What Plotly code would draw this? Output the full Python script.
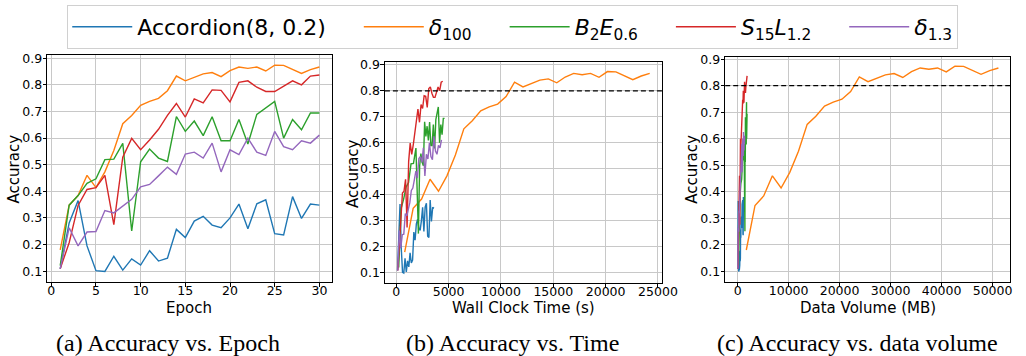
import plotly.graph_objects as go
from plotly.subplots import make_subplots

# ---------------- data ----------------
epochs = list(range(1, 31))

acc_accordion = [0.109, 0.281, 0.365, 0.195, 0.102, 0.099, 0.156, 0.104, 0.146, 0.123,
                 0.177, 0.138, 0.149, 0.257, 0.226, 0.288, 0.306, 0.273, 0.263, 0.300,
                 0.352, 0.259, 0.353, 0.368, 0.241, 0.236, 0.380, 0.298, 0.352, 0.348]
acc_delta100 = [0.180, 0.348, 0.384, 0.460, 0.414, 0.473, 0.553, 0.654, 0.685, 0.723,
                0.738, 0.749, 0.778, 0.833, 0.815, 0.827, 0.841, 0.846, 0.831, 0.853,
                0.867, 0.862, 0.867, 0.852, 0.874, 0.873, 0.859, 0.843, 0.857, 0.867]
acc_b2e06 = [0.121, 0.348, 0.384, 0.430, 0.447, 0.519, 0.521, 0.580, 0.251, 0.511,
             0.559, 0.525, 0.512, 0.681, 0.625, 0.664, 0.609, 0.680, 0.590, 0.590,
             0.670, 0.578, 0.689, 0.714, 0.738, 0.600, 0.670, 0.631, 0.694, 0.694]
acc_s15l12 = [0.109, 0.207, 0.347, 0.407, 0.414, 0.460, 0.275, 0.528, 0.599, 0.556,
              0.593, 0.633, 0.685, 0.730, 0.679, 0.747, 0.732, 0.781, 0.779, 0.736,
              0.809, 0.815, 0.791, 0.775, 0.775, 0.794, 0.815, 0.800, 0.833, 0.837]
acc_delta13 = [0.109, 0.263, 0.195, 0.247, 0.249, 0.328, 0.319, 0.343, 0.370, 0.417,
               0.426, 0.458, 0.491, 0.464, 0.540, 0.547, 0.525, 0.581, 0.473, 0.556,
               0.538, 0.600, 0.547, 0.535, 0.625, 0.568, 0.556, 0.590, 0.581, 0.611]

# wall-clock time (s) at the end of each epoch
time_accordion = [120, 240, 360, 480, 600, 720, 840, 960, 1080, 1200,
                  1320, 1440, 1560, 1680, 1800, 1920, 2040, 2160, 2280, 2400,
                  2520, 2640, 2760, 2880, 3000, 3120, 3240, 3360, 3480, 3600]
time_delta100 = [807, 1614, 2421, 3228, 4035, 4842, 5649, 6456, 7263, 8070,
                 8877, 9684, 10491, 11298, 12105, 12912, 13719, 14526, 15333, 16140,
                 16947, 17754, 18561, 19368, 20175, 20982, 21789, 22596, 23403, 24210]
time_b2e06 = [235, 470, 705, 940, 1175, 1410, 1645, 1880, 2115, 2234,
              2353, 2472, 2591, 2710, 2829, 2948, 3067, 3186, 3305, 3424,
              3543, 3662, 3781, 3900, 4019, 4138, 4257, 4376, 4495, 4614]
time_s15l12 = [148, 296, 444, 592, 740, 888, 1036, 1184, 1332, 1480,
               1628, 1776, 1924, 2072, 2220, 2368, 2516, 2664, 2812, 2960,
               3108, 3256, 3404, 3552, 3700, 3848, 3996, 4144, 4292, 4440]
time_delta13 = [144, 288, 432, 576, 720, 864, 1008, 1152, 1296, 1440,
                1584, 1728, 1872, 2016, 2160, 2304, 2448, 2592, 2736, 2880,
                3024, 3168, 3312, 3456, 3600, 3744, 3888, 4032, 4176, 4320]

# cumulative data volume (MB) at the end of each epoch
data_accordion = [42, 84, 126, 168, 210, 252, 294, 336, 378, 420,
                  462, 504, 546, 588, 630, 672, 714, 756, 798, 840,
                  882, 924, 966, 1008, 1050, 1092, 1134, 1176, 1218, 1260]
data_delta100 = [1705, 3410, 5115, 6820, 8525, 10230, 11935, 13640, 15345, 17050,
                 18755, 20460, 22165, 23870, 25575, 27280, 28985, 30690, 32395, 34100,
                 35805, 37510, 39215, 40920, 42625, 44330, 46035, 47740, 49445, 51150]
data_b2e06 = [159, 318, 477, 636, 795, 954, 1113, 1272, 1431, 1451,
              1471, 1491, 1511, 1531, 1551, 1571, 1591, 1611, 1631, 1651,
              1671, 1691, 1711, 1731, 1751, 1771, 1791, 1811, 1831, 1851]
data_s15l12 = [62, 124, 186, 248, 310, 372, 434, 496, 558, 620,
               682, 744, 806, 868, 930, 992, 1054, 1116, 1178, 1240,
               1302, 1364, 1426, 1488, 1550, 1612, 1674, 1736, 1798, 1860]
data_delta13 = [46, 92, 138, 184, 230, 276, 322, 368, 414, 460,
                506, 552, 598, 644, 690, 736, 782, 828, 874, 920,
                966, 1012, 1058, 1104, 1150, 1196, 1242, 1288, 1334, 1380]

labels = ["Accordion(8, 0.2)",
          "<i>δ</i><sub>100</sub>",
          "<i>B</i><sub>2</sub><i>E</i><sub>0.6</sub>",
          "<i>S</i><sub>15</sub><i>L</i><sub>1.2</sub>",
          "<i>δ</i><sub>1.3</sub>"]
colors = ["#1f77b4", "#ff7f0e", "#2ca02c", "#d62728", "#9467bd"]
acc_series = [acc_accordion, acc_delta100, acc_b2e06, acc_s15l12, acc_delta13]
time_series = [time_accordion, time_delta100, time_b2e06, time_s15l12, time_delta13]
data_series = [data_accordion, data_delta100, data_b2e06, data_s15l12, data_delta13]

target_acc = 0.8
captions = ["(a) Accuracy vs. Epoch", "(b) Accuracy vs. Time", "(c) Accuracy vs. data volume"]
x_titles = ["Epoch", "Wall Clock Time (s)", "Data Volume (MB)"]
y_title = "Accuracy"

# ---------------- figure ----------------
W, H = 1026, 356
fig = make_subplots(rows=1, cols=3)

pads = ["\u00a0" * 4] * 4 + [""]
for i in range(5):
    for col, xs in ((1, epochs), (2, time_series[i]), (3, data_series[i])):
        fig.add_trace(go.Scatter(
            x=xs, y=acc_series[i], mode="lines",
            line=dict(color=colors[i], width=1.4),
            name=labels[i] + pads[i], legendgroup=str(i), showlegend=(col == 1)),
            row=1, col=col)

for col in (2, 3):
    fig.add_hline(y=target_acc, line=dict(color="black", width=1.2, dash="5px,3px"), row=1, col=col)

def px_x(a, b):
    return [a / W, min(b / W, 1.0)]

def px_y(top, bottom):
    return [1 - bottom / H, 1 - top / H]

tick_font = dict(family="DejaVu Sans", size=12.5, color="black")
title_font = dict(family="DejaVu Sans", size=15, color="black")
common = dict(showline=True, mirror=True, linecolor="black", linewidth=1,
              ticks="outside", ticklen=3.5, tickcolor="black", tickwidth=1,
              showgrid=True, gridcolor="#c8c8c8", gridwidth=1.2,
              zeroline=False, tickfont=tick_font)

# plot boxes in pixels: (left, right, top, bottom)
boxes = [(48, 337.6, 51, 281.3), (391, 672.7, 58.3, 282.3), (736.7, 1026, 52.3, 281)]

# subplot (a)
fig.update_xaxes(domain=px_x(*boxes[0][:2]), range=[-0.45, 31.45], tickvals=[0, 5, 10, 15, 20, 25, 30],
                 ticklabelstandoff=-7, row=1, col=1, **common)
fig.update_yaxes(domain=px_y(*boxes[0][2:]), range=[0.058, 0.911], dtick=0.1, tick0=0.1, tickformat=".1f",
                 ticklabelstandoff=-2, row=1, col=1, **common)
# subplot (b)
fig.update_xaxes(domain=px_x(*boxes[1][:2]), range=[-1084, 25404], dtick=5000, tick0=0, tickformat="d",
                 ticklabelstandoff=-7, row=1, col=2, **common)
fig.update_yaxes(domain=px_y(*boxes[1][2:]), range=[0.0598, 0.909], dtick=0.1, tick0=0.1, tickformat=".1f",
                 ticklabelstandoff=-2, row=1, col=2, **common)
# subplot (c)
fig.update_xaxes(domain=px_x(*boxes[2][:2]), range=[-2432, 53420], dtick=10000, tick0=0, tickformat="d",
                 ticklabelstandoff=-7, row=1, col=3, **common)
fig.update_yaxes(domain=px_y(*boxes[2][2:]), range=[0.059, 0.910], dtick=0.1, tick0=0.1, tickformat=".1f",
                 ticklabelstandoff=-2, row=1, col=3, **common)

# axis titles
x_title_cx = [192.5, 531.9, 881.5]
y_title_cx = [14, 358, 703]
y_title_cy = [166, 171, 167]
for k in range(3):
    fig.add_annotation(text=x_titles[k], x=x_title_cx[k] / W, y=1 - 307 / H, xref="paper", yref="paper",
                       xanchor="center", yanchor="middle", showarrow=False, font=title_font)
    fig.add_annotation(text=y_title, x=y_title_cx[k] / W, y=1 - y_title_cy[k] / H, xref="paper", yref="paper",
                       xanchor="center", yanchor="middle", textangle=-90, showarrow=False, font=title_font)

caption_x = [170.8, 521, 871]
for cx, txt in zip(caption_x, captions):
    fig.add_annotation(text=txt, x=cx / W, y=1 - 343 / H, xref="paper", yref="paper",
                       xanchor="center", yanchor="middle", showarrow=False,
                       font=dict(family="Liberation Serif", size=24, color="black"))

fig.update_layout(
    width=W, height=H, margin=dict(l=0, r=0, t=0, b=0),
    plot_bgcolor="white", paper_bgcolor="white",
    showlegend=True,
    legend=dict(orientation="h", x=68.3 / W, y=1.0, xanchor="left", yanchor="top",
                bordercolor="#d0d0d0", borderwidth=1, bgcolor="white",
                font=dict(family="DejaVu Sans", size=22, color="black"),
                itemwidth=60, tracegroupgap=0),
)

fig.write_html("out.html", config={"displayModeBar": False},
               post_script="document.body.style.margin='0';document.body.style.padding='0';")
